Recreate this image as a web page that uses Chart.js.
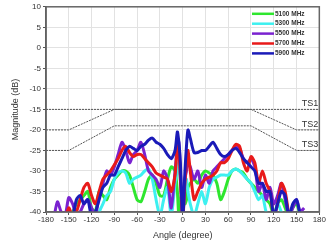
<!DOCTYPE html>
<html><head><meta charset="utf-8">
<script src="https://cdn.jsdelivr.net/npm/chart.js@4/dist/chart.umd.min.js"></script>
<style>html,body{margin:0;padding:0;background:#fff}#c{display:block}</style>
</head><body>
<canvas id="c" width="326" height="241"></canvas>
<script>
const angles = [-170,-165,-160,-155,-150,-145,-140,-135,-130,-125,-120,-115,-110,-105,-100,-95,-90,-85,-80,-75,-70,-65,-60,-55,-50,-45,-40,-35,-30,-25,-20,-15,-10,-7,-5,-3,0,3,5,7,10,15,20,25,30,35,40,45,50,55,60,65,70,75,80,85,90,95,100,105,110,115,120,125,130,135,140,145,150,155,160];
const s5100 = [null,null,null,null,-41,-40,-38,-37,-36,-35,-39,-40,-35,-36,-37,-34,-32,-31,-30,-30,-31,-34,-37,-37.5,-35,-32,-31,-33,-36,-36,-32,-29,-30,-35,-41,-37,-35,-38,-37,-34,-33,-32,-33,-31,-30,-30.5,-31,-33,-37,-35,-32,-30,-29.5,-30,-30.5,-32,-33,-34,-35,-36,-37,-38,-41,-38,-37,-39,-41,-39,-38,-41,null];
const s5300 = [null,null,null,null,null,null,null,null,null,null,null,-42,-40,-38,-36,-35,-32,-30.5,-30,-30.5,-33,-32,-31.5,-31,-30,-29.5,-32,-37,-41,-37,-34,-41,-33,-30,-28,-33,-42,-33,-32,-35,-38,-41,-38,-35,-38,-34,-32,-31.5,-31,-31,-31,-30,-29.5,-30,-31,-32,-33,-35,-37,-36,-40,-41,-41,-38,-40,-42,null,null,null,null,null];
const s5500 = [-42,-37.5,-40,-41,-36.5,-38,-41,-40,-38,-37,-39,-41,-36,-33,-30,-31,-29,-26,-23,-25,-28,-26,-25,-23,-26,-30,-31,-32,-34,-30,-32,-39,-30,-24,-23,-30,-42,-32,-30,-28,-29,-32,-30,-34,-31,-33,-30,-29,-28,-27,-26,-25,-24,-24.5,-27,-28,-27,-29,-35,-33,-37,-34,-38,-36,-33,-37,-41,-39,-37,-40,-39];
const s5700 = [null,null,null,-42,-39,-41,-40,-37,-34,-33,-36,-38,-35,-32,-31,-30,-28.5,-27,-25,-24,-25.5,-26.5,-26,-26,-27,-28,-29,-30.5,-31,-31.5,-32,-35,-31,-24,-25,-32,-42,-33,-28,-25,-30,-37,-35,-33,-32,-31.5,-31,-30,-28,-28,-27,-25,-23.5,-24,-28,-30,-26.5,-28,-33,-30,-33,-35,-41,-38,-33,-35,-41,null,null,null,null];
const s5900 = [null,null,null,null,null,-42,-37,-36,-38,-37,-41,-40,-37,-34,-33,-31,-31,-29,-27,-25,-24,-24.5,-25,-24,-23.5,-22.5,-22,-23,-23.5,-24.5,-26,-27,-25,-20.5,-23,-28,-42,-30,-24,-20,-22,-25.5,-25.5,-25,-25,-24,-23,-24.5,-26,-26.5,-26,-25,-24.5,-25.5,-27,-28,-29,-30,-33,-33,-35,-35,-41,-38,-35,-36,-41,-38,-37,-41,null];
const maskAngles = [-180,-150,-90,90,150,180];
const ts1 = [-15,-15,-15,-15,-15,-15];
const ts2 = [-20,-20,-15,-15,-20,-20];
const ts3 = [-25,-25,-19,-19,-25,-25];
const xTicks = [-180,-150,-120,-90,-60,-30,0,30,60,90,120,150,180];
const seriesNames = ['5100 MHz','5300 MHz','5500 MHz','5700 MHz','5900 MHz'];
const maskNames = ['TS1','TS2','TS3'];

const colors = ['#2ee62e','#3df0f0','#7a22d0','#e81a1a','#1a1ab8'];
const toPts = (xs, ys) => xs.map((x,i)=>({x:x,y:ys[i]}));
const seriesVals = [s5100,s5300,s5500,s5700,s5900];
const datasets = [];
[ts1,ts2,ts3].forEach((m,i)=>{
  datasets.push({label:maskNames[i],data:toPts(maskAngles,m),borderColor:'#555',borderWidth:1,borderDash:[2,1],pointRadius:0,tension:0,order:10});
});
seriesVals.forEach((v,i)=>{
  datasets.push({label:seriesNames[i],data:toPts(angles,v),borderColor:colors[i],borderWidth:3,pointRadius:0,tension:0.25,spanGaps:false,order:5-i});
});

const overlay = {
  id:'overlay',
  afterDatasetsDraw(chart){
    const ctx=chart.ctx, a=chart.chartArea, ys=chart.scales.y;
    ctx.save();
    ctx.strokeStyle='#666'; ctx.lineWidth=1.5;
    ctx.strokeRect(a.left,a.top,a.right-a.left,a.bottom-a.top);
    ctx.fillStyle='#333'; ctx.font='9px "Liberation Sans", Arial, sans-serif';
    ctx.textAlign='right'; ctx.textBaseline='bottom';
    const lv=[ts1[5],ts2[5],ts3[5]];
    maskNames.forEach((n,i)=>{ ctx.fillText(n,a.right-1,ys.getPixelForValue(lv[i])-1); });
    ctx.font='bold 6.5px "Liberation Sans", Arial, sans-serif';
    ctx.textAlign='left'; ctx.textBaseline='middle';
    seriesNames.forEach((n,i)=>{
      const y=a.top+7+i*9.9;
      ctx.strokeStyle=colors[i]; ctx.lineWidth=2.5;
      ctx.beginPath(); ctx.moveTo(a.left+206,y); ctx.lineTo(a.left+228,y); ctx.stroke();
      ctx.fillStyle='#333'; ctx.fillText(n,a.left+229,y);
    });
    ctx.restore();
  }
};

new Chart(document.getElementById('c'),{
  type:'line',
  data:{datasets},
  options:{
    responsive:false, animation:false, devicePixelRatio:1,
    layout:{padding:{top:2,right:4,left:10,bottom:0}},
    plugins:{legend:{display:false},tooltip:{enabled:false}},
    scales:{
      x:{type:'linear',min:-180,max:180,
        afterBuildTicks(s){s.ticks=xTicks.map(v=>({value:v}));},
        ticks:{color:'#333',font:{size:8,family:'"Liberation Sans", Arial, sans-serif'},maxRotation:0,padding:0},
        grid:{color:'#e2e2e2',tickLength:3,tickColor:'#555'},
        border:{color:'#666',width:1.5},
        title:{display:true,text:'Angle (degree)',color:'#333',font:{size:9,family:'"Liberation Sans", Arial, sans-serif'},padding:{top:0,bottom:0}},
        afterFit(s){s.height=29;}
      },
      y:{min:-40,max:10,
        ticks:{stepSize:5,color:'#333',font:{size:8,family:'"Liberation Sans", Arial, sans-serif'},padding:2},
        grid:{color:'#e2e2e2',tickLength:3,tickColor:'#555'},
        border:{color:'#555',width:1.5},
        title:{display:true,text:'Magnitude (dB)',color:'#333',font:{size:9,family:'"Liberation Sans", Arial, sans-serif'},padding:{top:0,bottom:0}},
        afterFit(s){s.width=36;}
      }
    }
  },
  plugins:[overlay]
});
</script>
</body></html>
